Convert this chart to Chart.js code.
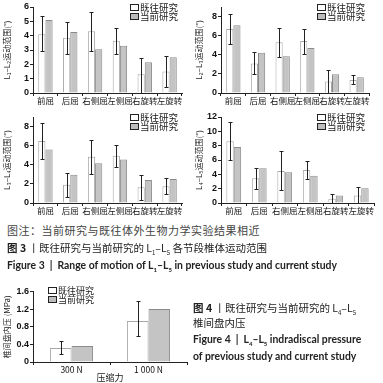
<!DOCTYPE html>
<html>
<head>
<meta charset="utf-8">
<script src="https://cdn.jsdelivr.net/npm/chart.js@4.4.1/dist/chart.umd.min.js"></script>
<style>
body{margin:0;background:#fff;width:383px;height:383px;position:relative;overflow:hidden;font-family:"Noto Sans CJK SC",sans-serif;color:#333}
canvas{position:absolute}
.legend{position:absolute;font-size:9.5px;line-height:9px;color:#222}
.legend div{white-space:nowrap;height:9px}
.legend .box{display:inline-block;width:7px;height:5px;border:1px solid #222;margin-right:1px}
.txt{position:absolute;white-space:nowrap;line-height:14px}
.en{font-family:Lato,sans-serif;font-weight:bold;color:#222}
</style>
</head>
<body>
<canvas id="c1" width="190" height="108" style="left:0;top:0"></canvas>
<canvas id="c2" width="186" height="108" style="left:192px;top:0"></canvas>
<canvas id="c3" width="190" height="108" style="left:0;top:110px"></canvas>
<canvas id="c4" width="190" height="108" style="left:192px;top:110px"></canvas>
<canvas id="c5" width="192" height="98" style="left:0;top:285px"></canvas>

<div class="legend" id="lg1" style="left:130px;top:3px"></div>
<div class="legend" id="lg2" style="left:317px;top:3px"></div>
<div class="legend" id="lg3" style="left:130px;top:113px"></div>
<div class="legend" id="lg4" style="left:317px;top:113px"></div>
<div class="legend" id="lg5" style="left:48px;top:286px;font-size:9px"></div>

<div class="txt" style="left:7px;top:223px;font-size:11px;color:#444;letter-spacing:0.5px">图注：当前研究与既往体外生物力学实验结果相近</div>
<div class="txt" style="left:7px;top:241px;font-size:10.5px;color:#222"><b>图 3</b> 丨既往研究与当前研究的 L<sub style="font-size:6px">1</sub>–L<sub style="font-size:6px">5</sub> 各节段椎体运动范围</div>
<div class="txt en" style="left:7px;top:258px;font-size:10.4px">Figure 3 &nbsp;|&nbsp; Range of motion of L<sub style="font-size:6px">1</sub>–L<sub style="font-size:6px">5</sub> in previous study and current study</div>

<div class="txt" style="left:193px;top:301px;font-size:10.5px;color:#222"><b>图 4</b> 丨既往研究与当前研究的 L<sub style="font-size:6px">4</sub>–L<sub style="font-size:6px">5</sub></div>
<div class="txt" style="left:193px;top:316px;font-size:10.5px;color:#222">椎间盘内压</div>
<div class="txt en" style="left:193px;top:332px;font-size:10.4px">Figure 4 &nbsp;|&nbsp; L<sub style="font-size:6px">4</sub>–L<sub style="font-size:6px">5</sub> indradiscal pressure</div>
<div class="txt en" style="left:193px;top:349px;font-size:10.4px">of previous study and current study</div>

<script>
var motions = ["前屈","后屈","右侧屈","左侧屈","右旋转","左旋转"];
var seriesNames = ["既往研究","当前研究"];

// L1-L2
var l12_prev = [4.1, 3.85, 4.3, 3.65, 1.3, 1.5];
var l12_prev_hi = [5.4, 4.95, 5.65, 4.55, 2.45, 2.6];
var l12_prev_lo = [2.9, 2.7, 2.9, 2.7, 0, 0.4];
var l12_curr = [5.1, 4.25, 3.05, 3.3, 2.15, 2.5];

// L2-L3
var l23_prev = [6.7, 3.1, 5.3, 5.45, 1.2, 1.35];
var l23_prev_hi = [8.3, 4.3, 6.8, 6.7, 2.4, 1.85];
var l23_prev_lo = [5.1, 2.0, 3.8, 4.1, 0, 0.9];
var l23_curr = [7.1, 4.2, 3.85, 4.7, 1.95, 1.65];

// L3-L4
var l34_prev = [6.5, 1.9, 4.85, 4.95, 1.65, 1.75];
var l34_prev_hi = [8.4, 3.15, 6.6, 6.1, 2.95, 2.65];
var l34_prev_lo = [4.6, 0.65, 3.05, 3.8, 0.35, 0.9];
var l34_curr = [5.6, 2.95, 4.15, 4.55, 2.4, 2.5];

// L4-L5
var l45_prev = [8.6, 3.45, 4.45, 4.6, 0.6, 1.05];
var l45_prev_hi = [11.3, 4.9, 7.25, 5.9, 1.2, 2.2];
var l45_prev_lo = [6.0, 1.9, 1.75, 3.3, 0, 0];
var l45_curr = [7.8, 4.85, 4.3, 3.8, 1.05, 2.05];

// L4-L5 disc pressure
var loads = ["300 N", "1 000 N"];
var press_prev = [0.32, 0.93];
var press_prev_hi = [0.47, 1.39];
var press_prev_lo = [0.18, 0.6];
var press_curr = [0.36, 1.2];

var ink = '#222';
var fontCJK = '"Noto Sans CJK SC", sans-serif';

var errorBars = {
    id: 'errorBars',
    afterDatasetsDraw: function(chart){
        var ds = chart.data.datasets[0];
        if (!ds.errHi) return;
        var meta = chart.getDatasetMeta(0);
        var y = chart.scales.y;
        var ctx = chart.ctx;
        ctx.save();
        ctx.strokeStyle = ink;
        ctx.lineWidth = 1;
        meta.data.forEach(function(bar, i){
            var x = Math.round(bar.x) + 0.5;
            var top = Math.round(y.getPixelForValue(ds.errHi[i])) + 0.5;
            var bot = Math.round(y.getPixelForValue(ds.errLo[i])) + 0.5;
            ctx.beginPath();
            ctx.moveTo(x, top); ctx.lineTo(x, bot);
            ctx.moveTo(x - 2, top); ctx.lineTo(x + 2, top);
            ctx.moveTo(x - 2, bot); ctx.lineTo(x + 2, bot);
            ctx.stroke();
        });
        ctx.restore();
    }
};

function makeLegend(id, chart){
    var html = '';
    chart.data.datasets.forEach(function(ds){
        html += '<div><span class="box" style="background:' + ds.legendFill + '"></span>' + ds.label + '</div>';
    });
    document.getElementById(id).innerHTML = html;
}

function makeChart(id, labels, prev, hi, lo, curr, o){
    return new Chart(document.getElementById(id), {
        type: 'bar',
        data: {
            labels: labels,
            datasets: [
                {label: seriesNames[0], data: prev, errHi: hi, errLo: lo,
                 backgroundColor: '#ffffff', borderColor: '#a8a8a8', borderWidth: 1, legendFill: '#ffffff'},
                {label: seriesNames[1], data: curr,
                 backgroundColor: '#c4c4c4', borderColor: '#8a8a8a', borderWidth: 1, legendFill: '#bdbdbd'}
            ]
        },
        options: {
            responsive: false,
            animation: false,
            devicePixelRatio: 1,
            categoryPercentage: o.cat,
            barPercentage: 1.0,
            layout: {padding: {top: o.top, right: o.right, left: 0, bottom: 0}},
            plugins: {legend: {display: false}, tooltip: {enabled: false}},
            scales: {
                x: {
                    grid: {drawOnChartArea: false, drawTicks: true, tickLength: 3, color: ink, offset: true},
                    border: {color: ink, width: 1},
                    ticks: {color: '#111', font: {family: fontCJK, size: 8.5}, padding: 0, maxRotation: 0, autoSkip: false},
                    title: {display: !!o.xTitle, text: o.xTitle || '', color: ink, font: {family: fontCJK, size: 9}, padding: 0},
                    afterFit: function(s){ s.height = o.xh; }
                },
                y: {
                    min: 0, max: o.max,
                    ticks: {stepSize: o.step, color: '#111', padding: 1,
                        font: {family: '"Liberation Sans", sans-serif', size: 9, weight: 'bold'},
                        callback: o.fmt},
                    grid: {drawOnChartArea: false, tickLength: 3, color: ink},
                    border: {color: ink, width: 1},
                    title: {display: true, text: o.yTitle, color: ink, font: {family: fontCJK, size: 8}, padding: {top: 2, bottom: 0}},
                    afterFit: function(s){ s.width = o.yw; }
                }
            }
        },
        plugins: [errorBars]
    });
}

var c1 = makeChart('c1', motions, l12_prev, l12_prev_hi, l12_prev_lo, l12_curr,
    {max: 6, step: 1, yw: 33, xh: 15, top: 7, right: 8, cat: 0.58, yTitle: 'L₁–L₂运动范围(°)'});
var c2 = makeChart('c2', motions, l23_prev, l23_prev_hi, l23_prev_lo, l23_curr,
    {max: 9, step: 1, yw: 29, xh: 15, top: 7, right: 9, cat: 0.58, yTitle: 'L₂–L₃运动范围(°)'});
var c3 = makeChart('c3', motions, l34_prev, l34_prev_hi, l34_prev_lo, l34_curr,
    {max: 9, step: 1, yw: 33, xh: 15, top: 7, right: 8, cat: 0.58, yTitle: 'L₃–L₄运动范围(°)'});
var c4 = makeChart('c4', motions, l45_prev, l45_prev_hi, l45_prev_lo, l45_curr,
    {max: 12, step: 2, yw: 29, xh: 15, top: 7, right: 8, cat: 0.58, yTitle: 'L₄–L₅运动范围(°)'});
var c5 = makeChart('c5', loads, press_prev, press_prev_hi, press_prev_lo, press_curr,
    {max: 1.6, step: 0.2, yw: 33, xh: 21, top: 6, right: 5, cat: 0.56, yTitle: '椎间盘内压 (MPa)', xTitle: '压缩力',
     fmt: function(v){ return v === 0 ? '0' : v.toFixed(1); }});

makeLegend('lg1', c1);
makeLegend('lg2', c2);
makeLegend('lg3', c3);
makeLegend('lg4', c4);
makeLegend('lg5', c5);
</script>
</body>
</html>
